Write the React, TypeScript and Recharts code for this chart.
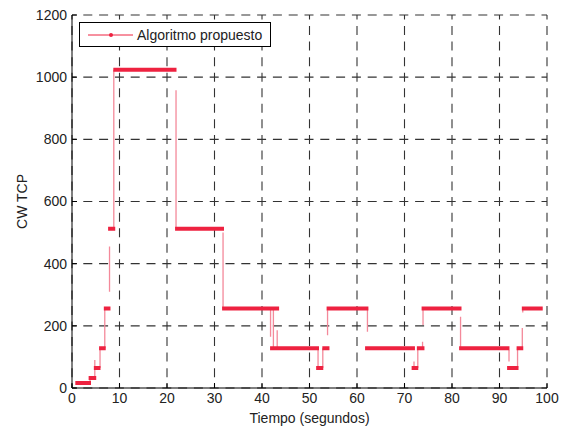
import { CartesianGrid, Label, Legend, Line, LineChart, XAxis, YAxis } from "recharts";

// horizontal runs of the CW value (seconds)
const segStart = [0.7, 3.5, 4.6, 5.7, 6.7, 7.6, 8.7, 21.7, 31.6, 41.7, 51.4, 52.7, 53.6, 61.7, 71.5, 72.6, 73.6, 81.5, 91.6, 93.6, 94.7];
const segEnd = [4.0, 5.1, 6.0, 7.1, 8.1, 9.1, 22.0, 32.0, 43.6, 52.0, 52.9, 54.2, 62.4, 72.2, 72.9, 74.2, 82.0, 92.1, 94.0, 95.0, 99.1];
const segLevel = [16, 32, 64, 128, 256, 512, 1024, 512, 256, 128, 64, 128, 256, 128, 64, 128, 256, 128, 64, 128, 256];

// thin vertical transitions
const transX = [3.8, 4.8, 5.9, 6.9, 7.9, 8.8, 21.9, 31.8, 41.8, 42.4, 43.2, 51.8, 52.8, 53.8, 62.2, 72.0, 72.8, 73.8, 73.9, 81.8, 92.0, 93.8, 94.8, 94.9];
const transLow = [16, 32, 64, 128, 310, 512, 512, 256, 165, 128, 122, 64, 64, 170, 181, 58, 64, 122, 203, 128, 85, 64, 128, 243];
const transHigh = [32, 90, 128, 256, 455, 1024, 958, 500, 254, 254, 186, 128, 128, 250, 256, 85, 128, 149, 257, 229, 122, 128, 193, 256];

const xTicks = [0, 10, 20, 30, 40, 50, 60, 70, 80, 90, 100];
const yTicks = [0, 200, 400, 600, 800, 1000, 1200];

const FONT = "'Liberation Sans', Arial, Helvetica, sans-serif";
const RED = "#ee2240";
const PINK = "#f4899a";

const stepData = segStart.flatMap((x0, i) => [
  { x: x0, y: segLevel[i] },
  { x: segEnd[i], y: segLevel[i] },
  { x: segEnd[i], y: null },
]);

const transData = transX.flatMap((x, i) => [
  { x, y: transLow[i] },
  { x, y: transHigh[i] },
  { x, y: null },
]);

function XTick(props: any) {
  const { x, y, payload } = props;
  return (
    <g>
      <line x1={x} x2={x} y1={y - 5} y2={y - 10} stroke="#000" />
      <text x={x} y={y} dy="0.71em" textAnchor="middle" fontSize={14} fill="#222" fontFamily={FONT}>
        {payload.value}
      </text>
    </g>
  );
}

function YTick(props: any) {
  const { x, y, payload } = props;
  return (
    <g>
      <line x1={x + 5} x2={x + 10} y1={y} y2={y} stroke="#000" />
      <text x={x} y={y} dy="0.355em" textAnchor="end" fontSize={14} fill="#222" fontFamily={FONT}>
        {payload.value}
      </text>
    </g>
  );
}

function LegendBox() {
  return (
    <div
      style={{
        width: 190,
        height: 23,
        border: "1px solid #000",
        background: "#fff",
        display: "flex",
        alignItems: "center",
        fontFamily: FONT,
        fontSize: 14,
        color: "#222",
      }}
    >
      <svg width={57} height={23} style={{ display: "block" }}>
        <line x1={8} x2={53} y1={12} y2={12} stroke={RED} strokeWidth={1} />
        <circle cx={31} cy={12} r={2} fill={RED} />
      </svg>
      <span>Algoritmo propuesto</span>
    </div>
  );
}

function YTitle(props: any) {
  const vb = props.viewBox || { x: 0, y: 15, width: 72, height: 373 };
  const cx = vb.x + 22;
  const cy = vb.y + vb.height / 2;
  return (
    <text
      x={cx}
      y={cy}
      transform={`rotate(-90 ${cx} ${cy})`}
      textAnchor="middle"
      dominantBaseline="central"
      fontSize={14}
      fill="#222"
      fontFamily={FONT}
    >
      CW TCP
    </text>
  );
}

function XTitle(props: any) {
  const vb = props.viewBox || { x: 72, y: 388, width: 475, height: 42 };
  return (
    <text
      x={vb.x + vb.width / 2}
      y={vb.y + 35}
      textAnchor="middle"
      fontSize={14}
      fill="#222"
      fontFamily={FONT}
    >
      Tiempo (segundos)
    </text>
  );
}

export default function App() {
  return (
    <div style={{ position: "absolute", left: 0, top: 0, width: 565, height: 430, background: "#fff" }}>
      <LineChart width={565} height={430} margin={{ top: 15, right: 18, left: 0, bottom: 0 }}>
        <CartesianGrid
          vertical={false}
          stroke="#333"
          strokeWidth={1.1}
          strokeDasharray="9 6.8"
          strokeDashoffset={4.5}
        />
        <CartesianGrid
          horizontal={false}
          stroke="#333"
          strokeWidth={1.1}
          strokeDasharray="9 6.55"
          strokeDashoffset={4.5}
        />
        <XAxis
          type="number"
          dataKey="x"
          domain={[0, 100]}
          ticks={xTicks}
          allowDataOverflow
          height={42}
          tickSize={0}
          tickMargin={5}
          tick={<XTick />}
          axisLine={{ stroke: "#000" }}
        >
          <Label content={<XTitle />} />
        </XAxis>
        <YAxis
          type="number"
          domain={[0, 1200]}
          ticks={yTicks}
          allowDataOverflow
          width={72}
          tickSize={0}
          tickMargin={5}
          tick={<YTick />}
          axisLine={{ stroke: "#000" }}
        >
          <Label content={<YTitle />} />
        </YAxis>
        <Legend
          layout="vertical"
          align="center"
          verticalAlign="middle"
          wrapperStyle={{ left: 79, top: 22, width: 192 }}
          content={<LegendBox />}
        />
        <Line
          data={transData}
          dataKey="y"
          stroke={PINK}
          strokeWidth={1.3}
          dot={false}
          activeDot={false}
          isAnimationActive={false}
          legendType="none"
        />
        <Line
          data={stepData}
          dataKey="y"
          stroke={RED}
          strokeWidth={4}
          strokeLinecap="butt"
          dot={false}
          activeDot={false}
          isAnimationActive={false}
        />
      </LineChart>
    </div>
  );
}
